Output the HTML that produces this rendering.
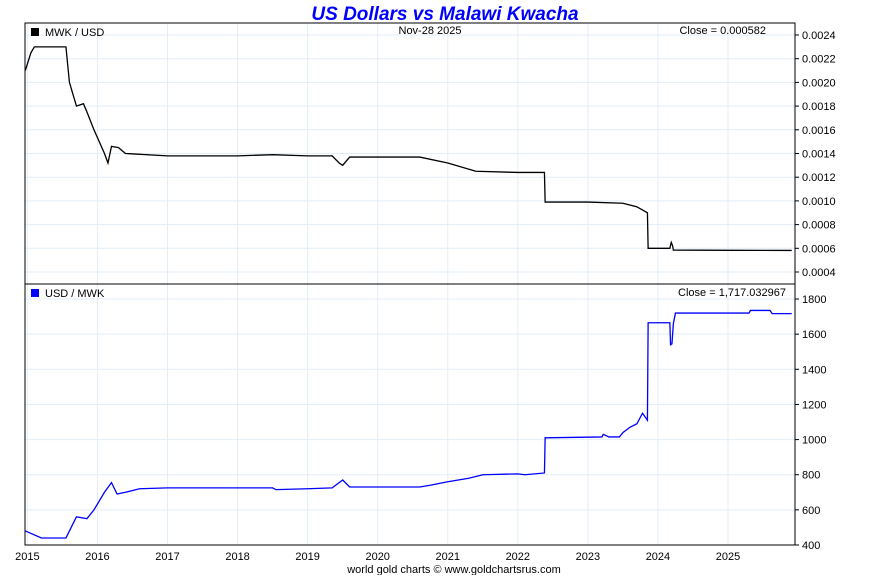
<!DOCTYPE html>
<html><head><meta charset="utf-8"><style>
body{margin:0;background:#fff;width:890px;height:575px;overflow:hidden;font-family:"Liberation Sans",sans-serif}
svg text{font-family:"Liberation Sans",sans-serif}
</style></head><body>
<svg id="chart" width="890" height="575" xmlns="http://www.w3.org/2000/svg">
<text x="445" y="20" text-anchor="middle" font-size="19" font-weight="bold" font-style="italic" fill="#0000ff">US Dollars vs Malawi Kwacha</text>
<g id="grid"></g>
<g id="series"></g>
<rect x="25" y="23" width="770" height="261" fill="none" stroke="#000"/>
<rect x="25" y="284" width="770" height="261" fill="none" stroke="#000"/>
<g id="labels"></g>
<rect x="31" y="28" width="8" height="8" fill="#000"/>
<text x="45" y="36" font-size="11">MWK / USD</text>
<text x="430" y="34" font-size="11" text-anchor="middle">Nov-28  2025</text>
<text x="766" y="34" font-size="11" text-anchor="end">Close = 0.000582</text>
<rect x="31" y="289" width="8" height="8" fill="#0000ff"/>
<text x="45" y="297" font-size="11">USD / MWK</text>
<text x="786" y="296" font-size="11" text-anchor="end">Close = 1,717.032967</text>
<text x="454" y="573" font-size="11" text-anchor="middle">world gold charts © www.goldchartsrus.com</text>
</svg>
<script>
const years=[2015,2016,2017,2018,2019,2020,2021,2022,2023,2024,2025];
const topTicks=[0.0004,0.0006,0.0008,0.0010,0.0012,0.0014,0.0016,0.0018,0.0020,0.0022,0.0024];
const botTicks=[400,600,800,1000,1200,1400,1600,1800];
const mwkT=[2014.97,2015.05,2015.1,2015.3,2015.55,2015.6,2015.7,2015.8,2015.85,2015.95,2016.1,2016.15,2016.2,2016.3,2016.4,2017,2018,2018.5,2019,2019.35,2019.45,2019.5,2019.6,2020,2020.6,2021,2021.4,2022,2022.38,2022.39,2023,2023.5,2023.7,2023.85,2023.86,2024.17,2024.19,2024.21,2024.22,2025,2025.91];
const mwkV=[0.0021,0.00225,0.0023,0.0023,0.0023,0.0020,0.0018,0.00182,0.00175,0.0016,0.0014,0.00132,0.00146,0.00145,0.0014,0.00138,0.00138,0.00139,0.00138,0.00138,0.00132,0.0013,0.00137,0.00137,0.00137,0.00132,0.00125,0.00124,0.00124,0.00099,0.00099,0.00098,0.00095,0.0009,0.0006,0.0006,0.00065,0.00062,0.000585,0.000583,0.000582];
const usdT=[2014.97,2015.2,2015.55,2015.7,2015.85,2015.95,2016.1,2016.2,2016.28,2016.4,2016.6,2017,2018.5,2018.55,2019,2019.35,2019.5,2019.6,2020.6,2020.75,2021,2021.3,2021.5,2022,2022.1,2022.38,2022.39,2023.2,2023.22,2023.3,2023.45,2023.5,2023.6,2023.7,2023.78,2023.85,2023.86,2024.17,2024.18,2024.2,2024.22,2024.25,2025.3,2025.32,2025.6,2025.63,2025.91];
const usdV=[480,440,440,560,550,600,700,755,690,700,720,725,725,715,720,725,770,730,730,740,760,780,800,805,800,810,1010,1015,1030,1015,1015,1040,1070,1090,1150,1110,1665,1665,1540,1545,1660,1720,1720,1735,1735,1717,1717];
const NS="http://www.w3.org/2000/svg";
function xS(t){return 27.4+70.06*(t-2015);}
function yTop(v){return 272-(v-0.0004)/0.0002*23.7;}
function yBot(v){return 545-(v-400)/200*35.14;}
function mk(tag,attrs,parent){const e=document.createElementNS(NS,tag);for(const k in attrs)e.setAttribute(k,attrs[k]);document.getElementById(parent).appendChild(e);return e;}
years.forEach(y=>{
 const x=xS(y);
 let g=mk('line',{x1:x,x2:x,y1:23,y2:545,stroke:'#e2eef8'},'grid');
 
 
 let t=mk('text',{x:x,y:560,'font-size':11,'text-anchor':'middle'},'labels');t.textContent=y;
 
 
});
topTicks.forEach(v=>{
 const y=yTop(v);
 let g=mk('line',{x1:25,x2:795,y1:y,y2:y,stroke:'#e2eef8'},'grid');
 
 
 mk('line',{x1:795,x2:799,y1:y,y2:y,stroke:'#000'},'labels');
 let t=mk('text',{x:802,y:y+4,'font-size':11},'labels');t.textContent=v.toFixed(4);
 
 
});
botTicks.forEach(v=>{
 const y=yBot(v);
 let g=mk('line',{x1:25,x2:795,y1:y,y2:y,stroke:'#e2eef8'},'grid');
 
 
 mk('line',{x1:795,x2:799,y1:y,y2:y,stroke:'#000'},'labels');
 let t=mk('text',{x:802,y:y+4,'font-size':11},'labels');t.textContent=v;
 
 
});
let p1=mk('polyline',{points:mwkT.map((t,i)=>xS(t)+','+yTop(mwkV[i])).join(' '),fill:'none',stroke:'#000','stroke-width':1.3},'series');


let p2=mk('polyline',{points:usdT.map((t,i)=>xS(t)+','+yBot(usdV[i])).join(' '),fill:'none',stroke:'#0000ff','stroke-width':1.3},'series');


</script>
</body></html>
